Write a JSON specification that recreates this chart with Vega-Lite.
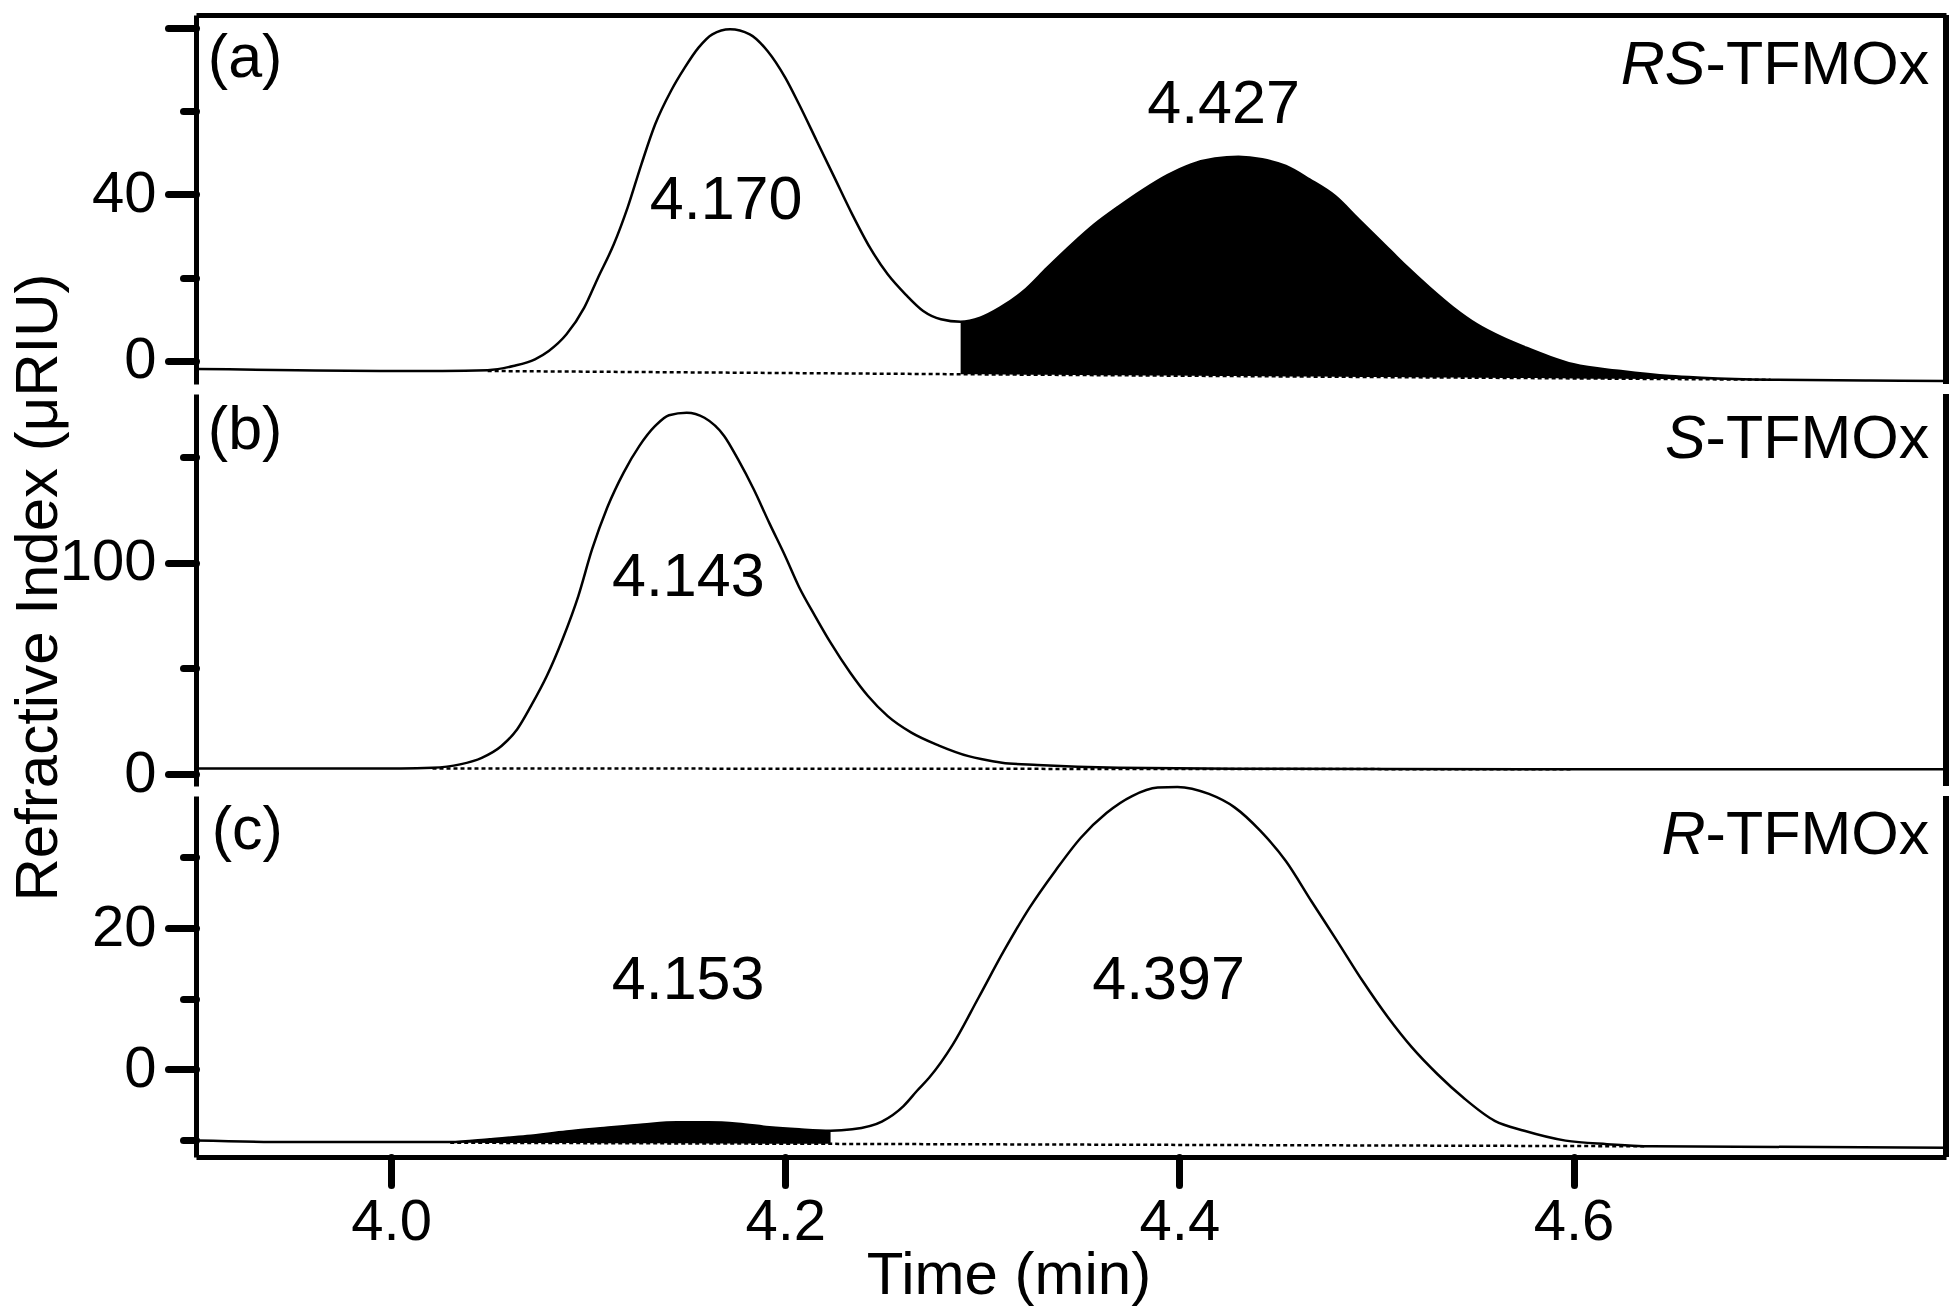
{
  "$schema": "https://vega.github.io/schema/vega-lite/v6.json",
  "background": "white",
  "padding": {"left": 8, "top": 12, "right": 2, "bottom": 5},
  "bounds": "flush",
  "spacing": 10,
  "config": {
    "view": {"stroke": null},
    "font": "Liberation Sans",
    "axis": {
      "grid": false,
      "domainColor": "black",
      "domainWidth": 5,
      "tickColor": "black",
      "tickWidth": 7,
      "tickCap": "round",
      "labelColor": "black",
      "labelFont": "Liberation Sans",
      "labelFontSize": 58,
      "labelPadding": 12,
      "titleFont": "Liberation Sans",
      "titleFontSize": 60,
      "titleFontWeight": "normal",
      "titleColor": "black"
    },
    "text": {"font": "Liberation Sans", "fontSize": 61, "color": "black"}
  },
  "datasets": {
    "trace": [
      {"p":"a","t":3.901,"v":-1.9},{"p":"a","t":3.952,"v":-2.2},{"p":"a","t":3.997,"v":-2.4},{"p":"a","t":4.026,"v":-2.4},
      {"p":"a","t":4.049,"v":-2.2},{"p":"a","t":4.062,"v":-1.2},{"p":"a","t":4.073,"v":0.4},{"p":"a","t":4.080,"v":2.4},
      {"p":"a","t":4.089,"v":6.4},{"p":"a","t":4.098,"v":12.8},{"p":"a","t":4.105,"v":20.0},{"p":"a","t":4.113,"v":28.0},
      {"p":"a","t":4.120,"v":36.8},{"p":"a","t":4.127,"v":47.2},{"p":"a","t":4.134,"v":56.8},{"p":"a","t":4.142,"v":64.8},
      {"p":"a","t":4.149,"v":70.4},{"p":"a","t":4.156,"v":75.2},{"p":"a","t":4.163,"v":78.4},{"p":"a","t":4.172,"v":79.6},
      {"p":"a","t":4.182,"v":78.4},{"p":"a","t":4.191,"v":74.4},{"p":"a","t":4.200,"v":68.0},{"p":"a","t":4.207,"v":61.6},
      {"p":"a","t":4.216,"v":52.8},{"p":"a","t":4.225,"v":44.0},{"p":"a","t":4.234,"v":35.2},{"p":"a","t":4.243,"v":27.2},
      {"p":"a","t":4.252,"v":20.8},{"p":"a","t":4.261,"v":16.0},{"p":"a","t":4.270,"v":12.0},{"p":"a","t":4.279,"v":10.0},
      {"p":"a","t":4.289,"v":9.4,"baseline":-3.18},{"p":"a","t":4.299,"v":10.4,"baseline":-3.21},
      {"p":"a","t":4.309,"v":12.8,"baseline":-3.24},{"p":"a","t":4.321,"v":16.8,"baseline":-3.28},
      {"p":"a","t":4.333,"v":22.4,"baseline":-3.32},{"p":"a","t":4.345,"v":27.8,"baseline":-3.36},
      {"p":"a","t":4.357,"v":32.8,"baseline":-3.40},{"p":"a","t":4.369,"v":37.0,"baseline":-3.43},
      {"p":"a","t":4.382,"v":41.2,"baseline":-3.47},{"p":"a","t":4.394,"v":44.6,"baseline":-3.51},
      {"p":"a","t":4.406,"v":47.2,"baseline":-3.55},{"p":"a","t":4.418,"v":48.6,"baseline":-3.59},
      {"p":"a","t":4.430,"v":49.0,"baseline":-3.63},{"p":"a","t":4.442,"v":48.4,"baseline":-3.67},
      {"p":"a","t":4.454,"v":46.8,"baseline":-3.71},{"p":"a","t":4.466,"v":43.6,"baseline":-3.75},
      {"p":"a","t":4.479,"v":39.6,"baseline":-3.79},{"p":"a","t":4.491,"v":34.0,"baseline":-3.83},
      {"p":"a","t":4.503,"v":28.4,"baseline":-3.87},{"p":"a","t":4.515,"v":22.8,"baseline":-3.91},
      {"p":"a","t":4.527,"v":17.6,"baseline":-3.95},{"p":"a","t":4.539,"v":12.8,"baseline":-3.98},
      {"p":"a","t":4.551,"v":8.8,"baseline":-4.02},{"p":"a","t":4.564,"v":5.6,"baseline":-4.06},
      {"p":"a","t":4.576,"v":3.2,"baseline":-4.10},{"p":"a","t":4.588,"v":1.0,"baseline":-4.14},
      {"p":"a","t":4.600,"v":-0.8,"baseline":-4.18},{"p":"a","t":4.624,"v":-2.4,"baseline":-4.26},
      {"p":"a","t":4.649,"v":-3.6,"baseline":-4.34},{"p":"a","t":4.665,"v":-4.0,"baseline":-4.39},
      {"p":"a","t":4.700,"v":-4.5,"baseline":-4.50},{"p":"a","t":4.750,"v":-4.7},{"p":"a","t":4.789,"v":-4.8},

      {"p":"b","t":3.901,"v":2.8},{"p":"b","t":4.005,"v":2.8},{"p":"b","t":4.021,"v":3.1},{"p":"b","t":4.035,"v":4.7},
      {"p":"b","t":4.046,"v":7.8},{"p":"b","t":4.056,"v":13.4},{"p":"b","t":4.064,"v":21.3},{"p":"b","t":4.071,"v":32.3},
      {"p":"b","t":4.079,"v":46.4},{"p":"b","t":4.087,"v":63.8},{"p":"b","t":4.095,"v":84.2},{"p":"b","t":4.102,"v":106.3},
      {"p":"b","t":4.110,"v":126.7},{"p":"b","t":4.118,"v":142.5},{"p":"b","t":4.126,"v":155.1},{"p":"b","t":4.134,"v":164.5},
      {"p":"b","t":4.141,"v":169.6},{"p":"b","t":4.150,"v":170.8},{"p":"b","t":4.159,"v":168.4},{"p":"b","t":4.169,"v":159.8},
      {"p":"b","t":4.176,"v":148.8},{"p":"b","t":4.184,"v":134.6},{"p":"b","t":4.192,"v":118.5},{"p":"b","t":4.200,"v":103.0},
      {"p":"b","t":4.207,"v":88.5},{"p":"b","t":4.215,"v":75.0},{"p":"b","t":4.223,"v":62.2},{"p":"b","t":4.233,"v":48.0},
      {"p":"b","t":4.242,"v":37.0},{"p":"b","t":4.252,"v":27.5},{"p":"b","t":4.264,"v":19.7},{"p":"b","t":4.278,"v":13.6},
      {"p":"b","t":4.293,"v":8.6},{"p":"b","t":4.300,"v":7.1},{"p":"b","t":4.310,"v":5.5},{"p":"b","t":4.328,"v":4.4},
      {"p":"b","t":4.369,"v":3.1},{"p":"b","t":4.454,"v":2.6},{"p":"b","t":4.600,"v":2.4},{"p":"b","t":4.789,"v":2.4},

      {"p":"c","t":3.901,"v":-10.1},{"p":"c","t":3.948,"v":-10.3},
      {"p":"c","t":4.030,"v":-10.3,"baseline":-10.40},{"p":"c","t":4.050,"v":-9.9,"baseline":-10.42},
      {"p":"c","t":4.069,"v":-9.45,"baseline":-10.43},{"p":"c","t":4.089,"v":-8.8,"baseline":-10.45},
      {"p":"c","t":4.108,"v":-8.3,"baseline":-10.46},{"p":"c","t":4.128,"v":-7.8,"baseline":-10.48},
      {"p":"c","t":4.145,"v":-7.5,"baseline":-10.49},{"p":"c","t":4.161,"v":-7.5,"baseline":-10.51},
      {"p":"c","t":4.176,"v":-7.7,"baseline":-10.52},{"p":"c","t":4.192,"v":-8.2,"baseline":-10.53},
      {"p":"c","t":4.207,"v":-8.5,"baseline":-10.55},{"p":"c","t":4.223,"v":-8.7,"baseline":-10.56},
      {"p":"c","t":4.234,"v":-8.5},{"p":"c","t":4.249,"v":-7.4},{"p":"c","t":4.260,"v":-5.2},{"p":"c","t":4.267,"v":-3.0},
      {"p":"c","t":4.273,"v":-1.2},{"p":"c","t":4.285,"v":3.5},{"p":"c","t":4.298,"v":10.1},{"p":"c","t":4.311,"v":16.8},
      {"p":"c","t":4.324,"v":22.9},{"p":"c","t":4.337,"v":28.1},{"p":"c","t":4.350,"v":32.8},{"p":"c","t":4.363,"v":36.3},
      {"p":"c","t":4.376,"v":38.7},{"p":"c","t":4.389,"v":39.9},{"p":"c","t":4.399,"v":40.0},{"p":"c","t":4.415,"v":39.0},
      {"p":"c","t":4.428,"v":37.1},{"p":"c","t":4.441,"v":33.8},{"p":"c","t":4.454,"v":29.5},{"p":"c","t":4.467,"v":23.8},
      {"p":"c","t":4.480,"v":18.2},{"p":"c","t":4.493,"v":12.5},{"p":"c","t":4.506,"v":7.3},{"p":"c","t":4.518,"v":3.1},
      {"p":"c","t":4.531,"v":-0.7},{"p":"c","t":4.544,"v":-4.0},{"p":"c","t":4.560,"v":-7.3},{"p":"c","t":4.575,"v":-8.7},
      {"p":"c","t":4.596,"v":-10.1},{"p":"c","t":4.617,"v":-10.6},{"p":"c","t":4.640,"v":-10.9},{"p":"c","t":4.789,"v":-11.1}
    ],
    "baselines": [
      {"p":"a","t":4.049,"v":-2.4},{"p":"a","t":4.700,"v":-4.5},
      {"p":"b","t":4.021,"v":2.8},{"p":"b","t":4.600,"v":2.4},
      {"p":"c","t":4.030,"v":-10.4},{"p":"c","t":4.637,"v":-10.9}
    ],
    "labels": [
      {"p":"a","kind":"tag","t":3.907,"v":68.2,"label":"(a)"},
      {"p":"a","kind":"peak","t":4.170,"v":34.0,"label":"4.170"},
      {"p":"a","kind":"peak","t":4.4224,"v":57.2,"label":"4.427"},
      {"p":"a","kind":"prefix","t":4.667,"v":66.4,"label":"RS"},
      {"p":"a","kind":"name","t":4.667,"v":66.4,"label":"-TFMOx"},
      {"p":"b","kind":"tag","t":3.907,"v":153.8,"label":"(b)"},
      {"p":"b","kind":"peak","t":4.1508,"v":84.2,"label":"4.143"},
      {"p":"b","kind":"prefix","t":4.667,"v":149.6,"label":"S"},
      {"p":"b","kind":"name","t":4.667,"v":149.6,"label":"-TFMOx"},
      {"p":"c","kind":"tag","t":3.909,"v":31.2,"label":"(c)"},
      {"p":"c","kind":"peak","t":4.1507,"v":9.9,"label":"4.153"},
      {"p":"c","kind":"peak","t":4.3945,"v":9.9,"label":"4.397"},
      {"p":"c","kind":"prefix","t":4.667,"v":30.5,"label":"R"},
      {"p":"c","kind":"name","t":4.667,"v":30.5,"label":"-TFMOx"}
    ]
  },
  "vconcat": [
    {
      "width": 1750,
      "height": 369,
      "encoding": {
        "x": {"field": "t", "type": "quantitative", "scale": {"domain": [3.901, 4.789], "nice": false, "zero": false},
              "axis": {"orient": "top", "ticks": false, "labels": false, "title": null, "domainWidth": 5}},
        "y": {"field": "v", "type": "quantitative", "scale": {"domain": [-5.52, 83.03], "nice": false, "zero": false},
              "axis": {"values": [0, 20, 40, 60, 80], "title": null,
                       "labelExpr": "datum.value === 0 || datum.value === 40 ? datum.label : ''",
                       "tickSize": {"condition": {"test": "datum.value % 40 === 0", "value": 28}, "value": 13}}}
      },
      "layer": [
        {"data": {"name": "trace"}, "transform": [{"filter": "datum.p === 'a' && isValid(datum.baseline)"}],
         "mark": {"type": "area", "color": "black", "interpolate": "monotone"},
         "encoding": {"y2": {"field": "baseline"}}},
        {"data": {"name": "baselines"}, "transform": [{"filter": "datum.p === 'a'"}],
         "mark": {"type": "line", "color": "black", "strokeWidth": 2.5, "strokeDash": [4, 3]}, "encoding": {}},
        {"data": {"name": "trace"}, "transform": [{"filter": "datum.p === 'a'"}],
         "mark": {"type": "line", "color": "black", "strokeWidth": 2.5, "interpolate": "monotone"}, "encoding": {}},
        {"data": {"name": "trace"}, "transform": [{"filter": "datum.p === 'a' && datum.t === 4.789"}],
         "mark": {"type": "rule", "color": "black", "strokeWidth": 6},
         "encoding": {"y": {"datum": -5.52}, "y2": {"datum": 83.03}}},
        {"data": {"name": "labels"}, "transform": [{"filter": "datum.p === 'a' && datum.kind === 'peak'"}],
         "mark": {"type": "text", "align": "center", "baseline": "alphabetic"}, "encoding": {"text": {"field": "label"}}},
        {"data": {"name": "labels"}, "transform": [{"filter": "datum.p === 'a' && (datum.kind === 'tag' || datum.kind === 'name')"}],
         "mark": {"type": "text", "align": "left", "baseline": "alphabetic"}, "encoding": {"text": {"field": "label"}}},
        {"data": {"name": "labels"}, "transform": [{"filter": "datum.p === 'a' && datum.kind === 'prefix'"}],
         "mark": {"type": "text", "align": "right", "baseline": "alphabetic", "fontStyle": "italic"}, "encoding": {"text": {"field": "label"}}}
      ]
    },
    {
      "width": 1750,
      "height": 392,
      "encoding": {
        "x": {"field": "t", "type": "quantitative", "scale": {"domain": [3.901, 4.789], "nice": false, "zero": false}, "axis": null},
        "y": {"field": "v", "type": "quantitative", "scale": {"domain": [-5.5, 179.6], "nice": false, "zero": false},
              "axis": {"values": [0, 50, 100, 150],
                       "labelExpr": "datum.value === 0 || datum.value === 100 ? datum.label : ''",
                       "tickSize": {"condition": {"test": "datum.value % 100 === 0", "value": 28}, "value": 13},
                       "title": "Refractive Index (μRIU)", "titleAngle": 270, "titleX": -139.6, "titleY": 193,
                       "titleAlign": "center", "titleBaseline": "alphabetic"}}
      },
      "layer": [
        {"data": {"name": "baselines"}, "transform": [{"filter": "datum.p === 'b'"}],
         "mark": {"type": "line", "color": "black", "strokeWidth": 2.5, "strokeDash": [4, 3]}, "encoding": {}},
        {"data": {"name": "trace"}, "transform": [{"filter": "datum.p === 'b'"}],
         "mark": {"type": "line", "color": "black", "strokeWidth": 2.5, "interpolate": "monotone"}, "encoding": {}},
        {"data": {"name": "trace"}, "transform": [{"filter": "datum.p === 'b' && datum.t === 4.789"}],
         "mark": {"type": "rule", "color": "black", "strokeWidth": 6},
         "encoding": {"y": {"datum": -5.5}, "y2": {"datum": 179.6}}},
        {"data": {"name": "labels"}, "transform": [{"filter": "datum.p === 'b' && datum.kind === 'peak'"}],
         "mark": {"type": "text", "align": "center", "baseline": "alphabetic"}, "encoding": {"text": {"field": "label"}}},
        {"data": {"name": "labels"}, "transform": [{"filter": "datum.p === 'b' && (datum.kind === 'tag' || datum.kind === 'name')"}],
         "mark": {"type": "text", "align": "left", "baseline": "alphabetic"}, "encoding": {"text": {"field": "label"}}},
        {"data": {"name": "labels"}, "transform": [{"filter": "datum.p === 'b' && datum.kind === 'prefix'"}],
         "mark": {"type": "text", "align": "right", "baseline": "alphabetic", "fontStyle": "italic"}, "encoding": {"text": {"field": "label"}}}
      ]
    },
    {
      "width": 1750,
      "height": 361,
      "encoding": {
        "x": {"field": "t", "type": "quantitative", "scale": {"domain": [3.901, 4.789], "nice": false, "zero": false},
              "axis": {"values": [4.0, 4.2, 4.4, 4.6], "format": ".1f", "tickSize": 28, "labelPadding": 8,
                       "title": "Time (min)", "titleX": 812.5, "titleY": 136, "titleAlign": "center",
                       "titleBaseline": "alphabetic", "titleAngle": 0}},
        "y": {"field": "v", "type": "quantitative", "scale": {"domain": [-12.42, 38.71], "nice": false, "zero": false},
              "axis": {"values": [-10, 0, 10, 20, 30], "title": null,
                       "labelExpr": "datum.value === 0 || datum.value === 20 ? datum.label : ''",
                       "tickSize": {"condition": {"test": "datum.value % 20 === 0", "value": 28}, "value": 13}}}
      },
      "layer": [
        {"data": {"name": "trace"}, "transform": [{"filter": "datum.p === 'c' && isValid(datum.baseline)"}],
         "mark": {"type": "area", "color": "black", "interpolate": "monotone"},
         "encoding": {"y2": {"field": "baseline"}}},
        {"data": {"name": "baselines"}, "transform": [{"filter": "datum.p === 'c'"}],
         "mark": {"type": "line", "color": "black", "strokeWidth": 2.5, "strokeDash": [4, 3]}, "encoding": {}},
        {"data": {"name": "trace"}, "transform": [{"filter": "datum.p === 'c'"}],
         "mark": {"type": "line", "color": "black", "strokeWidth": 2.5, "interpolate": "monotone"}, "encoding": {}},
        {"data": {"name": "trace"}, "transform": [{"filter": "datum.p === 'c' && datum.t === 4.789"}],
         "mark": {"type": "rule", "color": "black", "strokeWidth": 6},
         "encoding": {"y": {"datum": -12.42}, "y2": {"datum": 38.71}}},
        {"data": {"name": "labels"}, "transform": [{"filter": "datum.p === 'c' && datum.kind === 'peak'"}],
         "mark": {"type": "text", "align": "center", "baseline": "alphabetic"}, "encoding": {"text": {"field": "label"}}},
        {"data": {"name": "labels"}, "transform": [{"filter": "datum.p === 'c' && (datum.kind === 'tag' || datum.kind === 'name')"}],
         "mark": {"type": "text", "align": "left", "baseline": "alphabetic"}, "encoding": {"text": {"field": "label"}}},
        {"data": {"name": "labels"}, "transform": [{"filter": "datum.p === 'c' && datum.kind === 'prefix'"}],
         "mark": {"type": "text", "align": "right", "baseline": "alphabetic", "fontStyle": "italic"}, "encoding": {"text": {"field": "label"}}}
      ]
    }
  ]
}
